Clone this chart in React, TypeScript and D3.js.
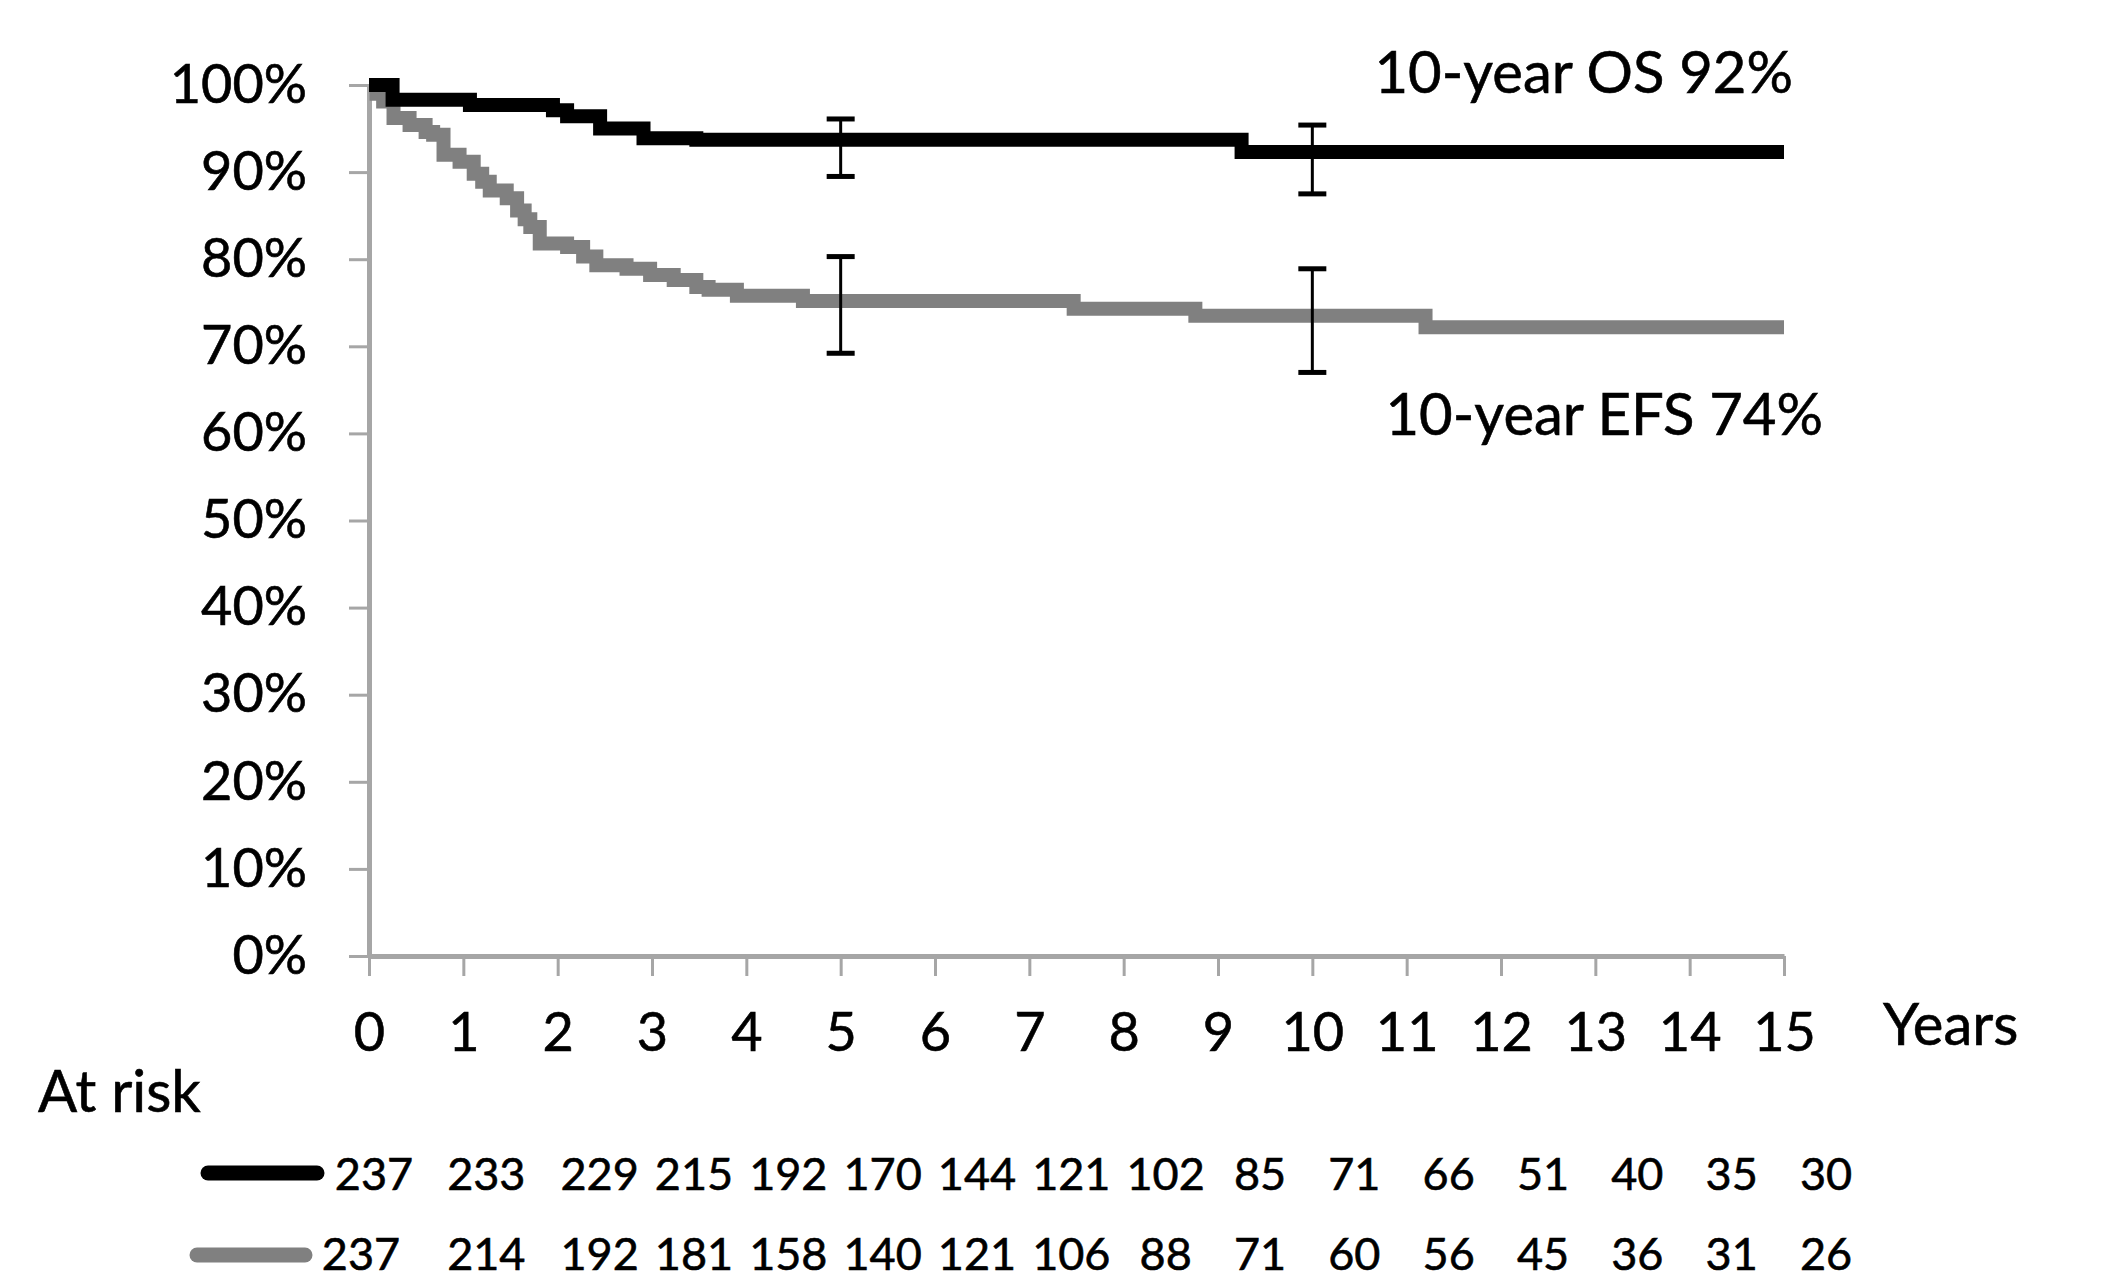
import { useEffect, useRef } from 'react';
import * as d3 from 'd3';

// Kaplan-Meier steps: [years, survival]
const osSteps: [number, number][] = [
  [0, 1.0], [0.25, 0.983], [1.07, 0.977], [1.95, 0.971], [2.1, 0.964],
  [2.45, 0.95], [2.91, 0.939], [3.47, 0.937], [9.25, 0.923], [15, 0.923],
];

const efsSteps: [number, number][] = [
  [0, 1.0], [0.08, 0.99], [0.15, 0.981], [0.26, 0.962], [0.43, 0.954],
  [0.6, 0.946], [0.68, 0.943], [0.79, 0.92], [0.96, 0.912], [1.11, 0.898],
  [1.2, 0.889], [1.28, 0.879], [1.46, 0.87], [1.57, 0.856], [1.65, 0.846],
  [1.71, 0.837], [1.81, 0.818], [2.1, 0.814], [2.27, 0.803], [2.41, 0.793],
  [2.73, 0.789], [2.98, 0.782], [3.23, 0.776], [3.47, 0.768], [3.6, 0.765],
  [3.9, 0.758], [4.6, 0.752], [7.47, 0.743], [8.76, 0.735], [11.2, 0.722],
  [15, 0.722],
];

// 95% CI bars at 5 and 10 years
const osCI = [
  { t: 5, lo: 0.895, hi: 0.961 },
  { t: 10, lo: 0.875, hi: 0.954 },
];
const efsCI = [
  { t: 5, lo: 0.692, hi: 0.803 },
  { t: 10, lo: 0.67, hi: 0.789 },
];

const yearTicks = d3.range(0, 16);
const pctTicks = d3.range(0, 11).map(d => d / 10);

const osAtRisk = [237, 233, 229, 215, 192, 170, 144, 121, 102, 85, 71, 66, 51, 40, 35, 30];
const efsAtRisk = [237, 214, 192, 181, 158, 140, 121, 106, 88, 71, 60, 56, 45, 36, 31, 26];

const osLabel = '10-year OS 92%';
const efsLabel = '10-year EFS 74%';

const W = 2126;
const H = 1288;
const FONT = 'Lato, "Open Sans", sans-serif';
const AXIS_GREY = '#a6a6a6';
const EFS_GREY = '#808080';

export default function App() {
  const svgRef = useRef<SVGSVGElement>(null);

  useEffect(() => {
    if (!svgRef.current) return;
    const svg = d3.select(svgRef.current);
    svg.selectAll('*').remove();

    const x = d3.scaleLinear().domain([0, 15]).range([369, 1784]);
    const y = d3.scaleLinear().domain([0, 1]).range([956, 85]);

    // Axes
    const yAxis = svg.append('g')
      .attr('transform', `translate(${x(0)},0)`)
      .call(d3.axisLeft(y).tickValues(pctTicks).tickFormat(d3.format('.0%')).tickSize(20).tickSizeOuter(0).tickPadding(42));
    const xAxis = svg.append('g')
      .attr('transform', `translate(0,${y(0)})`)
      .call(d3.axisBottom(x).tickValues(yearTicks).tickFormat(d3.format('d')).tickSize(20).tickSizeOuter(0).tickPadding(37));

    [yAxis, xAxis].forEach(ax => {
      ax.select('.domain').attr('stroke', AXIS_GREY).attr('stroke-width', 5);
      ax.selectAll('.tick line').attr('stroke', AXIS_GREY).attr('stroke-width', 3);
      ax.selectAll('.tick text')
        .attr('fill', '#000')
        .attr('stroke', '#000')
        .attr('stroke-width', 0.6)
        .style('font-family', FONT)
        .style('font-size', '54px');
    });

    // Survival curves
    const line = d3.line<[number, number]>()
      .x(d => x(d[0]))
      .y(d => y(d[1]))
      .curve(d3.curveStepAfter);

    svg.append('path')
      .datum(efsSteps)
      .attr('d', line)
      .attr('fill', 'none')
      .attr('stroke', EFS_GREY)
      .attr('stroke-width', 14);

    svg.append('path')
      .datum(osSteps)
      .attr('d', line)
      .attr('fill', 'none')
      .attr('stroke', '#000')
      .attr('stroke-width', 14);

    // Error bars
    const bars = svg.append('g');
    [...osCI, ...efsCI].forEach(ci => {
      const cx = x(ci.t);
      bars.append('line')
        .attr('x1', cx).attr('x2', cx)
        .attr('y1', y(ci.hi)).attr('y2', y(ci.lo))
        .attr('stroke', '#000').attr('stroke-width', 3);
      [ci.hi, ci.lo].forEach(v => {
        bars.append('line')
          .attr('x1', cx - 14).attr('x2', cx + 14)
          .attr('y1', y(v)).attr('y2', y(v))
          .attr('stroke', '#000').attr('stroke-width', 5);
      });
    });

    // Annotations
    const text = (tx: number, ty: number, s: string, size: number, anchor = 'start') =>
      svg.append('text')
        .attr('x', tx).attr('y', ty)
        .attr('text-anchor', anchor)
        .style('font-family', FONT)
        .style('font-size', `${size}px`)
        .attr('fill', '#000')
        .attr('stroke', '#000')
        .attr('stroke-width', 0.6)
        .text(s);

    text(1793, 93, osLabel, 58, 'end');
    text(1823, 435, efsLabel, 58, 'end');
    text(1883, 1045, 'Years', 58);
    text(38, 1112, 'At risk', 58);

    // At-risk table
    const rows = [
      { values: osAtRisk, color: '#000', x1: 208, x2: 317, base: 1190, mid: 1173, first: 374 },
      { values: efsAtRisk, color: EFS_GREY, x1: 197, x2: 305, base: 1270, mid: 1255, first: 361 },
    ];
    rows.forEach(r => {
      svg.append('line')
        .attr('x1', r.x1).attr('x2', r.x2)
        .attr('y1', r.mid).attr('y2', r.mid)
        .attr('stroke', r.color)
        .attr('stroke-width', 15)
        .attr('stroke-linecap', 'round');
      r.values.forEach((v, i) => {
        const cx = i === 0 ? r.first : i === 1 ? x(i) + 23 : x(i) + 42;
        text(cx, r.base, String(v), 45, 'middle');
      });
    });
  }, []);

  return (
    <svg
      ref={svgRef}
      width={W}
      height={H}
      style={{ position: 'absolute', left: 0, top: 0, background: '#fff', display: 'block' }}
    />
  );
}
